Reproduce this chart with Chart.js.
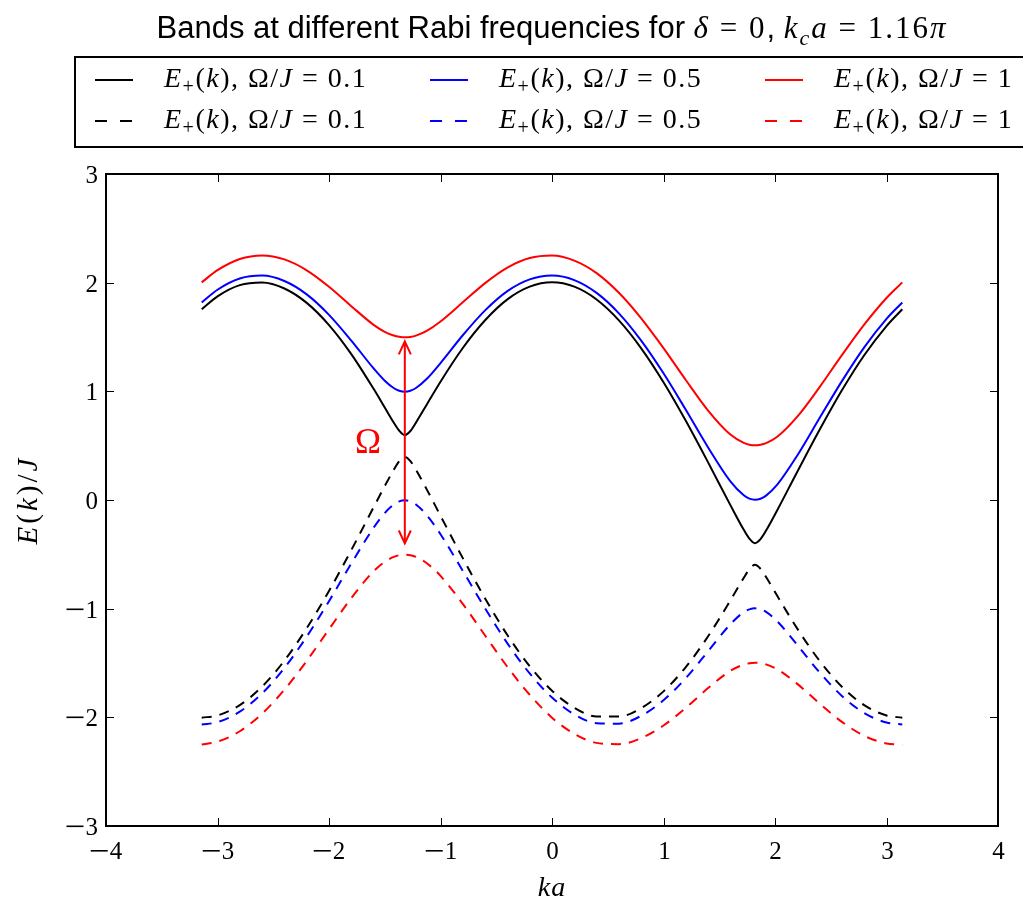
<!DOCTYPE html>
<html>
<head>
<meta charset="utf-8">
<title>Bands at different Rabi frequencies</title>
<script src="https://cdn.jsdelivr.net/npm/chart.js@4.4.1/dist/chart.umd.min.js"></script>
<style>
  html, body { margin: 0; padding: 0; background: #fff; }
</style>
</head>
<body>
<canvas id="bands" width="1023" height="903"></canvas>
<script>
// k*a sample points (denser near the two avoided crossings)
const kVals = [-3.1416, -3.0, -2.8, -2.6, -2.4, -2.2, -2.0, -1.8, -1.6, -1.5, -1.42, -1.37, -1.32, -1.27, -1.22, -1.12,
  -1.0, -0.8, -0.6, -0.4, -0.2, 0, 0.2, 0.4, 0.6, 0.8, 1.0, 1.2, 1.4, 1.6, 1.72, 1.77, 1.82, 1.87, 1.92, 2.02,
  2.2, 2.4, 2.6, 2.8, 3.0, 3.1416];

// Omega/J = 0.1
const upper01 = [1.755, 1.874, 1.977, 2.001, 1.946, 1.814, 1.610, 1.343, 1.023, 0.851, 0.713, 0.637, 0.597, 0.635, 0.712, 0.884,
  1.089, 1.399, 1.654, 1.846, 1.963, 2.003, 1.963, 1.845, 1.653, 1.396, 1.084, 0.729, 0.346, -0.047, -0.274, -0.355, -0.397, -0.360, -0.281, -0.094,
  0.260, 0.646, 1.009, 1.332, 1.601, 1.755];
const lower01 = [-2.003, -1.983, -1.887, -1.717, -1.478, -1.180, -0.837, -0.461, -0.067, 0.128, 0.276, 0.357, 0.397, 0.358, 0.278, 0.091,
  -0.145, -0.535, -0.906, -1.243, -1.529, -1.755, -1.912, -1.992, -1.993, -1.915, -1.761, -1.538, -1.254, -0.924, -0.716, -0.639, -0.597, -0.633, -0.709, -0.882,
  -1.184, -1.480, -1.718, -1.888, -1.983, -2.003];
// Omega/J = 0.5
const upper05 = [1.818, 1.935, 2.038, 2.065, 2.015, 1.892, 1.704, 1.467, 1.211, 1.098, 1.031, 1.006, 0.997, 1.006, 1.031, 1.118,
  1.260, 1.516, 1.745, 1.922, 2.030, 2.066, 2.024, 1.906, 1.718, 1.467, 1.166, 0.830, 0.484, 0.172, 0.043, 0.013, 0.003, 0.012, 0.040, 0.141,
  0.410, 0.754, 1.094, 1.405, 1.667, 1.818];
const lower05 = [-2.066, -2.044, -1.948, -1.780, -1.546, -1.258, -0.931, -0.585, -0.255, -0.120, -0.042, -0.013, -0.003, -0.012, -0.041, -0.143,
  -0.315, -0.652, -0.997, -1.319, -1.596, -1.818, -1.973, -2.054, -2.058, -1.986, -1.843, -1.639, -1.392, -1.143, -1.032, -1.007, -0.997, -1.005, -1.030, -1.116,
  -1.335, -1.587, -1.803, -1.960, -2.048, -2.066];
// Omega/J = 1
const upper1 = [2.003, 2.115, 2.218, 2.251, 2.214, 2.114, 1.963, 1.784, 1.612, 1.548, 1.514, 1.502, 1.497, 1.501, 1.513, 1.559,
  1.643, 1.819, 1.996, 2.139, 2.227, 2.250, 2.203, 2.088, 1.907, 1.672, 1.398, 1.104, 0.823, 0.602, 0.525, 0.508, 0.503, 0.508, 0.523, 0.582,
  0.767, 1.039, 1.333, 1.614, 1.859, 2.003];
const lower1 = [-2.250, -2.224, -2.128, -1.966, -1.746, -1.481, -1.190, -0.902, -0.656, -0.569, -0.524, -0.508, -0.503, -0.508, -0.523, -0.584,
  -0.698, -0.956, -1.247, -1.536, -1.792, -2.003, -2.152, -2.235, -2.247, -2.191, -2.075, -1.913, -1.731, -1.572, -1.514, -1.502, -1.497, -1.501, -1.513, -1.558,
  -1.692, -1.873, -2.042, -2.170, -2.240, -2.250];

const omegaLabels = ['0.1', '0.5', '1'];
const bandColors = ['#000000', '#0000ff', '#ff0000'];
const xTicks = [-4, -3, -2, -1, 0, 1, 2, 3, 4];
const yTicks = [-3, -2, -1, 0, 1, 2, 3];

// the red Omega arrow and its label
const arrowK = -1.32;
const arrowTop = 1.46;
const arrowBottom = -0.40;
const omegaTextK = -1.65;
const omegaTextE = 0.52;

const SERIF = "'Liberation Serif', 'DejaVu Serif', serif";
const SANS = "'Liberation Sans', Arial, sans-serif";
const DASH = [10, 8];

// draw a run of text pieces that mix roman, italic and small sub/superscripts
const drawRich = (ctx, segs, x, y, size, align, spacing) => {
  const fontOf = (o) => `${o.it ? 'italic ' : ''}${Math.round(size * (o.scale || 1))}px ${o.sans ? SANS : SERIF}`;
  const lsOf = (o) => (o.sans ? '0px' : (spacing || 0) + 'px');
  let total = 0;
  segs.forEach(([t, o]) => {
    ctx.font = fontOf(o); ctx.letterSpacing = lsOf(o);
    total += ctx.measureText(t).width;
  });
  let cx = align === 'center' ? x - total / 2 : x;
  ctx.textAlign = 'left';
  ctx.textBaseline = 'alphabetic';
  segs.forEach(([t, o]) => {
    ctx.font = fontOf(o); ctx.letterSpacing = lsOf(o);
    ctx.fillText(t, cx, y + (o.dy || 0) * size);
    cx += ctx.measureText(t).width;
  });
  ctx.letterSpacing = '0px';
  return total;
};

// tick number with a long math minus; anchor 'center' or 'right'
const MINUS_W = 17, MINUS_GAP = 2;
const drawTickLabel = (ctx, v, x, baseline, anchor) => {
  ctx.font = `25px ${SERIF}`;
  ctx.textAlign = 'left';
  ctx.textBaseline = 'alphabetic';
  const digits = String(Math.abs(v));
  const dw = ctx.measureText(digits).width;
  const total = dw + (v < 0 ? MINUS_W + MINUS_GAP : 0);
  let cx = anchor === 'center' ? x - total / 2 : x - total;
  if (v < 0) {
    ctx.fillRect(cx, baseline - 9, MINUS_W, 1.6);
    cx += MINUS_W + MINUS_GAP;
  }
  ctx.fillText(digits, cx, baseline);
};

const bandLabel = (w) => [
  ['E', { it: 1 }], ['+', { scale: 0.7, dy: 0.22 }], ['(', {}], ['k', { it: 1 }], ['), ', {}],
  ['\u03A9/', {}], ['J', { it: 1 }], [' = ' + w, {}]
];

const titleSegs = [
  ['Bands at different Rabi frequencies for ', { sans: 1 }], ['\u03B4', { it: 1 }], [' = 0', {}],
  [', ', { sans: 1 }], ['k', { it: 1 }], ['c', { it: 1, scale: 0.7, dy: 0.22 }], ['a', { it: 1 }],
  [' = 1.16', {}], ['\u03C0', { it: 1 }]
];

const mkSet = (label, values, color, dashed) => ({
  label: label,
  data: kVals.map((k, i) => ({ x: k, y: values[i] })),
  borderColor: color,
  borderWidth: 2,
  borderDash: dashed ? DASH : [],
  pointRadius: 0,
  fill: false,
  cubicInterpolationMode: 'monotone'
});

const datasets = [
  mkSet('E+(k), \u03A9/J = 0.1', upper01, bandColors[0], false),
  mkSet('E+(k), \u03A9/J = 0.1', lower01, bandColors[0], true),
  mkSet('E+(k), \u03A9/J = 0.5', upper05, bandColors[1], false),
  mkSet('E+(k), \u03A9/J = 0.5', lower05, bandColors[1], true),
  mkSet('E+(k), \u03A9/J = 1', upper1, bandColors[2], false),
  mkSet('E+(k), \u03A9/J = 1', lower1, bandColors[2], true)
];

const decorations = {
  id: 'decorations',
  afterDraw(chart) {
    const ctx = chart.ctx;
    const { left, top, right, bottom } = chart.chartArea;
    const xs = chart.scales.x, ys = chart.scales.y;
    ctx.save();

    // inward ticks on all four sides, with their numbers
    ctx.strokeStyle = '#000';
    ctx.fillStyle = '#000';
    ctx.lineWidth = 1;
    ctx.beginPath();
    xTicks.forEach((v) => {
      const px = Math.round(xs.getPixelForValue(v)) + 0.5;
      ctx.moveTo(px, bottom); ctx.lineTo(px, bottom - 8);
      ctx.moveTo(px, top); ctx.lineTo(px, top + 8);
      drawTickLabel(ctx, v, px, bottom + 33, 'center');
    });
    yTicks.forEach((v) => {
      const py = Math.round(ys.getPixelForValue(v)) + 0.5;
      ctx.moveTo(left, py); ctx.lineTo(left + 8, py);
      ctx.moveTo(right, py); ctx.lineTo(right - 8, py);
      drawTickLabel(ctx, v, left - 8, py + 8, 'right');
    });
    ctx.stroke();

    // frame
    ctx.lineWidth = 2;
    ctx.strokeRect(left, top, right - left, bottom - top);

    // Omega arrow
    const ax = xs.getPixelForValue(arrowK);
    const a1 = ys.getPixelForValue(arrowTop), a2 = ys.getPixelForValue(arrowBottom);
    ctx.strokeStyle = '#ff0000';
    ctx.lineWidth = 2;
    ctx.beginPath();
    ctx.moveTo(ax, a1); ctx.lineTo(ax, a2);
    ctx.moveTo(ax - 6, a1 + 13); ctx.lineTo(ax, a1); ctx.lineTo(ax + 6, a1 + 13);
    ctx.moveTo(ax - 6, a2 - 13); ctx.lineTo(ax, a2); ctx.lineTo(ax + 6, a2 - 13);
    ctx.stroke();
    ctx.fillStyle = '#ff0000';
    ctx.font = `35px ${SERIF}`;
    ctx.textAlign = 'center';
    ctx.textBaseline = 'middle';
    ctx.fillText('\u03A9', xs.getPixelForValue(omegaTextK), ys.getPixelForValue(omegaTextE));

    // title
    ctx.fillStyle = '#000';
    drawRich(ctx, titleSegs, (left + right) / 2, 38, 31, 'center', 2);

    // legend box, three columns of two entries
    ctx.strokeStyle = '#000';
    ctx.lineWidth = 2;
    ctx.strokeRect(75, 57, 1000, 90);
    const colX = [95, 430, 765];
    const rowY = [80, 121];
    omegaLabels.forEach((w, c) => {
      [false, true].forEach((dashed, r) => {
        ctx.strokeStyle = bandColors[c];
        ctx.lineWidth = 2;
        ctx.setLineDash(dashed ? [12, 13] : []);
        ctx.beginPath();
        ctx.moveTo(colX[c], rowY[r]); ctx.lineTo(colX[c] + 38, rowY[r]);
        ctx.stroke();
        ctx.setLineDash([]);
        ctx.fillStyle = '#000';
        drawRich(ctx, bandLabel(w), colX[c] + 69, rowY[r] + 7, 28, 'left', 1.5);
      });
    });

    // axis titles
    ctx.fillStyle = '#000';
    drawRich(ctx, [['ka', { it: 1 }]], (left + right) / 2, 896, 28, 'center', 1);
    ctx.translate(37, (top + bottom) / 2);
    ctx.rotate(-Math.PI / 2);
    drawRich(ctx, [['E', { it: 1 }], ['(', {}], ['k', { it: 1 }], [')/', {}], ['J', { it: 1 }]], 0, 0, 29, 'center', 3);
    ctx.restore();
  }
};

new Chart(document.getElementById('bands'), {
  type: 'line',
  data: { datasets: datasets },
  options: {
    responsive: false,
    animation: false,
    layout: { padding: { top: 174, right: 25, left: 0, bottom: 0 } },
    plugins: { legend: { display: false }, title: { display: false }, tooltip: { enabled: false } },
    scales: {
      x: {
        type: 'linear', min: -4, max: 4,
        grid: { display: false, drawTicks: false },
        border: { display: false },
        ticks: { stepSize: 1, display: false },
        afterFit: (s) => { s.height = 77; }
      },
      y: {
        type: 'linear', min: -3, max: 3,
        grid: { display: false, drawTicks: false },
        border: { display: false },
        ticks: { stepSize: 1, display: false },
        afterFit: (s) => { s.width = 106; }
      }
    }
  },
  plugins: [decorations]
});
</script>
</body>
</html>
